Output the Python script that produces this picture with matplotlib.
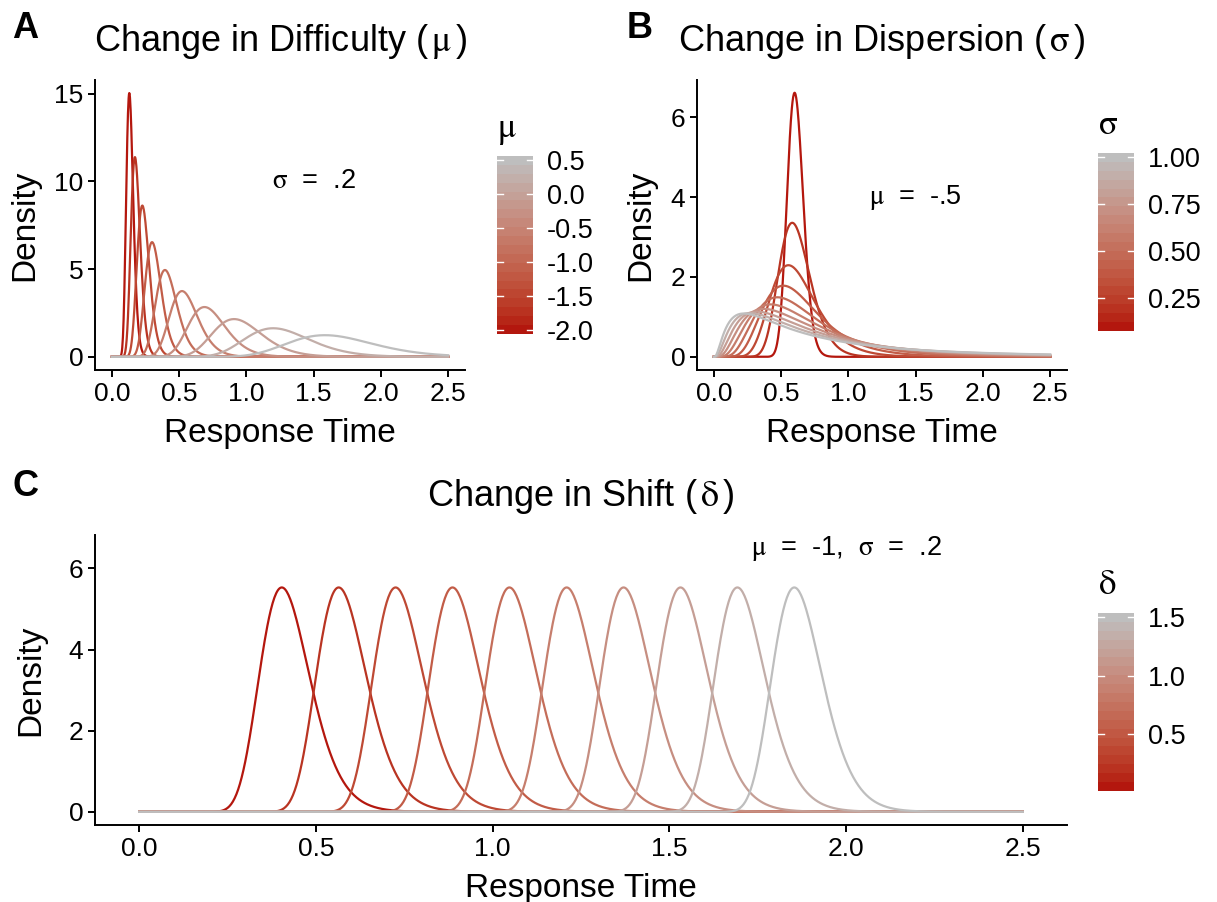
import numpy as np
import matplotlib
matplotlib.use('Agg')
import matplotlib.pyplot as plt
from matplotlib.colors import ListedColormap, Normalize, to_rgb
from matplotlib.ticker import FormatStrFormatter

plt.rcParams['font.family'] = ['Liberation Sans', 'DejaVu Sans']
plt.rcParams['mathtext.fontset'] = 'stix'

# parameters of the lognormal curves
mu_values = [-2.0, -1.722, -1.444, -1.167, -0.889, -0.611, -0.333, -0.056, 0.222, 0.5]
sigma_a = 0.2

sigma_values = [0.1, 0.2, 0.3, 0.4, 0.5, 0.6, 0.7, 0.8, 0.9, 1.0]
mu_b = -0.5

delta_values = [0.05, 0.211, 0.372, 0.533, 0.694, 0.856, 1.017, 1.178, 1.339, 1.5]
mu_c = -1.0
sigma_c = 0.2

rt = np.linspace(0, 2.5, 1001)

low_col = '#B4170E'
high_col = '#BEBEBE'


# ggplot style gradient, interpolated in Lab space
def to_lab(c):
    c = np.array(to_rgb(c))
    c = np.where(c > 0.04045, ((c + 0.055) / 1.055) ** 2.4, c / 12.92)
    m = np.array([[0.4124, 0.3576, 0.1805], [0.2126, 0.7152, 0.0722], [0.0193, 0.1192, 0.9505]])
    xyz = m @ c / np.array([0.95047, 1.0, 1.08883])
    f = np.where(xyz > 0.008856, np.cbrt(xyz), 7.787 * xyz + 16 / 116)
    return np.array([116 * f[1] - 16, 500 * (f[0] - f[1]), 200 * (f[1] - f[2])])


def from_lab(lab):
    fy = (lab[0] + 16) / 116
    f = np.array([fy + lab[1] / 500, fy, fy - lab[2] / 200])
    xyz = np.where(f > 0.2069, f ** 3, (f - 16 / 116) / 7.787) * np.array([0.95047, 1.0, 1.08883])
    mi = np.array([[3.2406, -1.5372, -0.4986], [-0.9689, 1.8758, 0.0415], [0.0557, -0.2040, 1.0570]])
    c = mi @ xyz
    c = np.where(c > 0.0031308, 1.055 * np.clip(c, 0, None) ** (1 / 2.4) - 0.055, 12.92 * c)
    return np.clip(c, 0, 1)


lab0, lab1 = to_lab(low_col), to_lab(high_col)
cmap = ListedColormap([from_lab(lab0 + (lab1 - lab0) * t) for t in np.linspace(0, 1, 256)])


def dlnorm(x, mu, sigma, shift=0.0):
    z = x - shift
    out = np.zeros_like(x)
    ok = z > 0
    out[ok] = np.exp(-(np.log(z[ok]) - mu) ** 2 / (2 * sigma ** 2)) / (z[ok] * sigma * np.sqrt(2 * np.pi))
    return out


W, H = 1217.0, 902.0


def box(l, t, r, b):
    return [l / W, (H - b) / H, (r - l) / W, (b - t) / H]


def style(ax, ylim, yticks, ypad=10):
    for s in ['top', 'right']:
        ax.spines[s].set_visible(False)
    for s in ['left', 'bottom']:
        ax.spines[s].set_linewidth(1.4)
    ax.tick_params(direction='out', length=5, width=1.4, labelsize=19, colors='black')
    ax.set_xlim(-0.125, 2.625)
    ax.set_xticks([0, 0.5, 1.0, 1.5, 2.0, 2.5])
    ax.xaxis.set_major_formatter(FormatStrFormatter('%.1f'))
    ax.set_ylim(*ylim)
    ax.set_yticks(yticks)
    ax.set_xlabel('Response Time', fontsize=24, labelpad=9)
    ax.set_ylabel('Density', fontsize=24, labelpad=ypad)


def colorbar(fig, rect, vmin, vmax, ticks, labels, title):
    cax = fig.add_axes(rect)
    vals = np.linspace(vmin, vmax, 20)
    h = (vmax - vmin) / 19
    cax.imshow(vals[::-1].reshape(-1, 1), cmap=cmap, norm=Normalize(vmin, vmax), aspect='auto',
               extent=[0, 1, vmin - h / 2, vmax + h / 2], interpolation='nearest')
    cax.set_xlim(0, 1)
    cax.set_ylim(vmin - h / 2, vmax + h / 2)
    for t in ticks:
        cax.plot([0, 0.18], [t, t], color='white', lw=1)
        cax.plot([0.82, 1], [t, t], color='white', lw=1)
    cax.set_xticks([])
    cax.yaxis.tick_right()
    cax.set_yticks(ticks)
    cax.set_yticklabels(labels)
    cax.tick_params(axis='y', length=0, labelsize=19.5, pad=10)
    for s in cax.spines.values():
        s.set_visible(False)
    cax.set_title(title, fontsize=25, loc='left', pad=14)


fig = plt.figure(figsize=(12.17, 9.02), dpi=100)

# A: change in difficulty
axA = fig.add_axes(box(95, 80, 465, 370))
normA = Normalize(min(mu_values), max(mu_values))
for m in mu_values:
    axA.plot(rt, dlnorm(rt, m, sigma_a), color=cmap(normA(m)), lw=1.6)
style(axA, (-0.75, 15.78), [0, 5, 10, 15])
axA.text(1.5, 10, r'$\mathrm{\sigma}$  =  .2', fontsize=19.5, ha='center', va='center')
axA.set_title(r'Change in Difficulty ($\,\mathrm{\mu}\,$)', fontsize=26, pad=21)
colorbar(fig, box(497, 156, 533, 334), -2.0, 0.5, [0.5, 0.0, -0.5, -1.0, -1.5, -2.0],
         ['0.5', '0.0', '-0.5', '-1.0', '-1.5', '-2.0'], r'$\mathrm{\mu}$')

# B: change in dispersion
axB = fig.add_axes(box(697, 80, 1067, 370))
normB = Normalize(min(sigma_values), max(sigma_values))
for s in sigma_values:
    axB.plot(rt, dlnorm(rt, mu_b, s), color=cmap(normB(s)), lw=1.6)
style(axB, (-0.33, 6.93), [0, 2, 4, 6])
axB.text(1.5, 4, r'$\mathrm{\mu}$  =  -.5', fontsize=19.5, ha='center', va='center')
axB.set_title(r'Change in Dispersion ($\,\mathrm{\sigma}\,$)', fontsize=26, pad=21)
colorbar(fig, box(1098, 153, 1134, 331), 0.1, 1.0, [0.25, 0.5, 0.75, 1.0],
         ['0.25', '0.50', '0.75', '1.00'], r'$\mathrm{\sigma}$')

# C: change in shift
axC = fig.add_axes(box(95, 535, 1067, 825))
normC = Normalize(min(delta_values), max(delta_values))
for d in delta_values:
    axC.plot(rt, dlnorm(rt, mu_c, sigma_c, d), color=cmap(normC(d)), lw=1.6)
style(axC, (-0.325, 6.825), [0, 2, 4, 6], ypad=16)
axC.text(2.0, 6.5, r'$\mathrm{\mu}$  =  -1,  $\mathrm{\sigma}$  =  .2', fontsize=19.5, ha='center', va='center')
axC.set_title(r'Change in Shift ($\,\mathrm{\delta}\,$)', fontsize=26, pad=21)
colorbar(fig, box(1098, 613, 1134, 791), 0.05, 1.5, [0.5, 1.0, 1.5],
         ['0.5', '1.0', '1.5'], r'$\mathrm{\delta}$')

for lab, x, y in [('A', 25, 29), ('B', 640, 29), ('C', 25, 486)]:
    fig.text(x / W, 1 - y / H, lab, fontsize=26, fontweight='bold', ha='center', va='center')

fig.savefig('out.png', dpi=100)
